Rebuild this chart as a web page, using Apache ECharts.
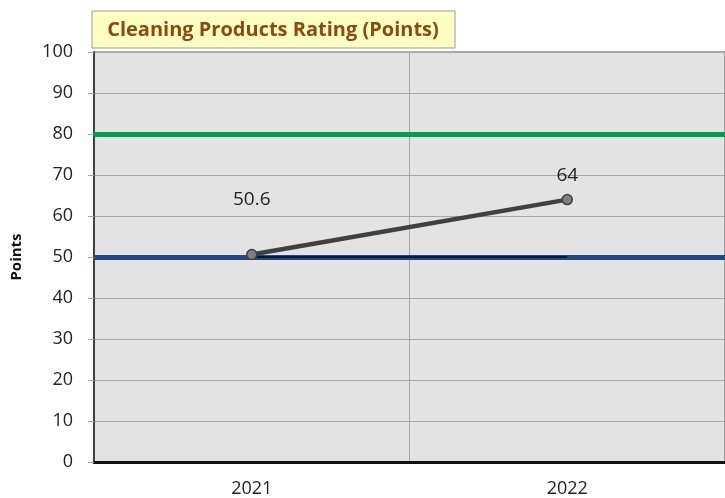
<!DOCTYPE html>
<html>
<head>
<meta charset="utf-8">
<script src="https://cdn.jsdelivr.net/npm/echarts@6/dist/echarts.min.js"></script>
<style>
  html, body { margin: 0; padding: 0; background: #ffffff; }
  #chart { width: 725px; height: 498px; }
</style>
</head>
<body>
<div id="chart"></div>
<script>
// Ratings by year
const years = ['2021', '2022'];
const ratings = [50.6, 64];
// Reference levels
const baseline = [50, 50];
const targetLevel = 80;
const averageLevel = 50;
const titleText = 'Cleaning Products Rating (Points)';
const axisName = 'Points';

const chart = echarts.init(document.getElementById('chart'));
const FONT = '"Open Sans", "Noto Sans", sans-serif';

chart.setOption({
  animation: false,
  backgroundColor: '#ffffff',
  grid: {
    left: 94, top: 52, width: 634, height: 410,
    show: true, backgroundColor: '#E3E3E3', borderColor: '#555555', borderWidth: 1
  },
  graphic: [
    {
      type: 'rect', z: 100,
      shape: { x: 92, y: 11, width: 363, height: 37 },
      style: { fill: '#FFFFC4', stroke: '#9A9A9A', lineWidth: 1 }
    },
    {
      type: 'text', z: 101,
      x: 273, y: 30,
      style: {
        text: titleText, fill: '#8B4A0F',
        font: 'bold 20px ' + FONT,
        align: 'center', verticalAlign: 'middle'
      }
    }
  ],
  xAxis: {
    type: 'category',
    data: years,
    boundaryGap: true,
    axisLine: { show: true, lineStyle: { color: '#111111', width: 3 } },
    axisTick: { show: false },
    splitLine: { show: true, lineStyle: { color: '#A6A6A6', width: 1 } },
    axisLabel: { margin: 18, color: '#222222', fontSize: 18, fontFamily: FONT }
  },
  yAxis: {
    type: 'value',
    min: 0, max: 100, interval: 10,
    name: axisName,
    nameLocation: 'middle',
    nameGap: 70,
    nameTextStyle: { color: '#111111', fontSize: 15, fontWeight: 'bold', fontFamily: FONT },
    axisLine: { show: true, lineStyle: { color: '#404040', width: 2 } },
    axisTick: { show: true, length: 6, lineStyle: { color: '#A6A6A6' } },
    splitLine: { show: true, lineStyle: { color: '#A6A6A6', width: 1 } },
    axisLabel: { margin: 21, color: '#222222', fontSize: 18, fontFamily: FONT }
  },
  series: [
    {
      type: 'line',
      data: [],
      silent: true,
      markLine: {
        symbol: 'none', silent: true, label: { show: false },
        data: [
          { yAxis: targetLevel, lineStyle: { color: '#00A04E', width: 5, type: 'solid' } },
          { yAxis: averageLevel, lineStyle: { color: '#1F4A82', width: 5, type: 'solid' } }
        ]
      },
      z: 1
    },
    {
      type: 'line',
      data: baseline,
      symbol: 'none',
      lineStyle: { color: '#0B1A30', width: 2 },
      z: 10
    },
    {
      type: 'line',
      data: [
        { value: ratings[0], label: { offset: [0, -31] } },
        { value: ratings[1] }
      ],
      symbol: 'circle',
      symbolSize: 10,
      itemStyle: { color: '#7F7F7F', borderColor: '#404040', borderWidth: 1.5 },
      lineStyle: { color: '#404040', width: 4.5 },
      label: {
        show: true, position: 'top', distance: 9,
        color: '#222222', fontSize: 19, fontFamily: FONT
      },
      z: 20
    }
  ]
});
</script>
</body>
</html>
